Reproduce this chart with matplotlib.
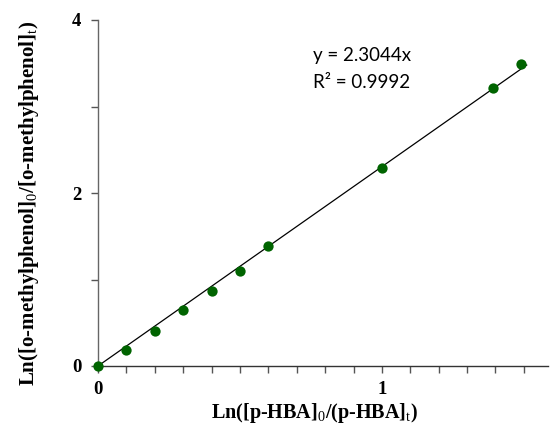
import matplotlib
matplotlib.use("Agg")
import matplotlib.pyplot as plt
from matplotlib.ticker import MultipleLocator, FixedLocator
import numpy as np

x_vals = [0.0, 0.1, 0.2, 0.3, 0.4, 0.5, 0.6, 1.0, 1.39, 1.49]
y_vals = [0.0, 0.18, 0.41, 0.65, 0.87, 1.10, 1.39, 2.285, 3.21, 3.49]
slope = 2.3044
r2 = 0.9992

plt.rcParams['mathtext.fontset'] = 'custom'
plt.rcParams['mathtext.rm'] = 'Liberation Serif'
plt.rcParams['mathtext.bf'] = 'Liberation Serif:bold'

fig = plt.figure(figsize=(5.5, 4.28), dpi=100)
ax = fig.add_axes([98/550, 1-366/428, 450/550, 346/428])

xl = np.array([0, 1.51])
ax.plot(xl, slope*xl, color='black', lw=0.9, zorder=2)
ax.scatter(x_vals, y_vals, s=55, color='#006400', zorder=3, clip_on=False, linewidths=0)

ax.set_xlim(0, 1.585)
ax.set_ylim(0, 4)
for s in ['top', 'right']:
    ax.spines[s].set_visible(False)
ax.spines['left'].set_color('#666666')
ax.spines['bottom'].set_color('#333333')
for s in ['left', 'bottom']:
    ax.spines[s].set_linewidth(1.0)

ax.xaxis.set_major_locator(FixedLocator([0, 1]))
ax.xaxis.set_minor_locator(MultipleLocator(0.1))
ax.yaxis.set_major_locator(FixedLocator([0, 2, 4]))
ax.yaxis.set_minor_locator(MultipleLocator(1))
ax.tick_params(which='both', direction='out', length=5, width=1, color='#555555')
ax.tick_params(axis='x', pad=6)
ax.tick_params(axis='y', pad=7)
for lab in ax.get_xticklabels() + ax.get_yticklabels():
    lab.set_fontfamily('Liberation Serif')
    lab.set_fontweight('bold')
    lab.set_fontsize(13.5)

ax.set_xlabel(r'Ln([p-HBA]$_\mathrm{0}$/(p-HBA]$_\mathrm{t}$)', fontfamily='Liberation Serif',
              fontweight='bold', fontsize=14.5)
ax.xaxis.set_label_coords(0.482, -0.1)
ax.set_ylabel(r'Ln([o-methylphenol]$_\mathrm{0}$/[o-methylphenol]$_\mathrm{t}$)',
              fontfamily='Liberation Serif', fontweight='bold', fontsize=15)
ax.yaxis.set_label_coords(-0.127, 0.47)

ax.text((313-98)/450, (366-56)/346, 'y = 2.3044x', transform=ax.transAxes,
        fontfamily='Lato', fontsize=13.5, va='center')
ax.text((313-98)/450, (366-83)/346, 'R² = 0.9992', transform=ax.transAxes,
        fontfamily='Lato', fontsize=13.5, va='center')

fig.savefig('out.png', dpi=100)
